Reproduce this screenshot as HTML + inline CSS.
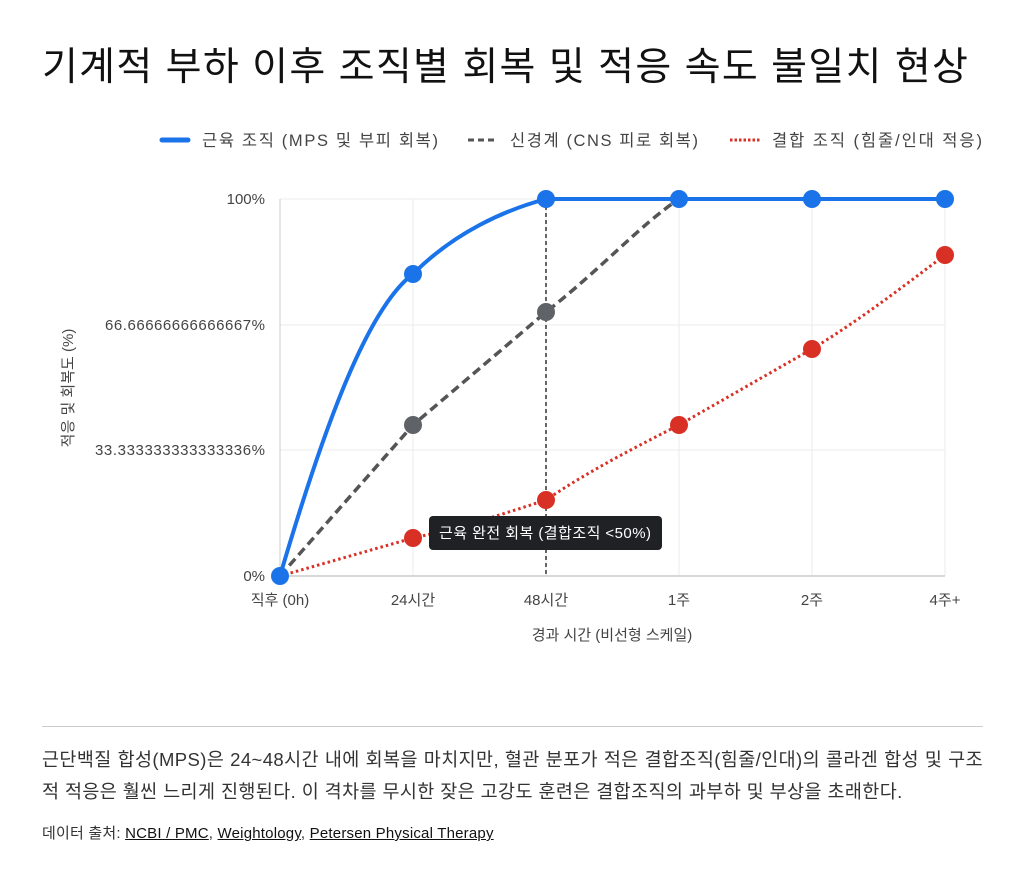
<!DOCTYPE html>
<html><head><meta charset="utf-8"><style>
body{margin:0;background:#fff;width:1024px;height:884px;overflow:hidden;font-family:"Liberation Sans","Noto Sans CJK KR",sans-serif;}
.t{position:absolute;left:42px;top:36px;font-size:39px;color:#111;letter-spacing:1.3px}
.hr{position:absolute;left:42px;top:726px;width:941px;height:1px;background:#ccc}
.p{position:absolute;left:42px;top:744px;width:941px;font-size:18.5px;line-height:32px;color:#333;letter-spacing:0.4px;white-space:nowrap}
.p div:first-child{text-align:justify;text-align-last:justify}
.s{position:absolute;left:42px;top:822px;font-size:15px;color:#333;letter-spacing:0.2px}
.s u{color:#111}
</style></head><body>
<div class="t">기계적 부하 이후 조직별 회복 및 적응 속도 불일치 현상</div>
<svg width="1024" height="884" style="position:absolute;left:0;top:0" font-family="Liberation Sans, Noto Sans CJK KR, sans-serif">
<g font-size="16.5" fill="#444">
<line x1="162" y1="140" x2="188" y2="140" stroke="#1a73e8" stroke-width="5" stroke-linecap="round"/>
<text x="202" y="146" textLength="236">근육 조직 (MPS 및 부피 회복)</text>
<line x1="468" y1="140" x2="498" y2="140" stroke="#555" stroke-width="3" stroke-dasharray="6,4"/>
<text x="510" y="146" textLength="188">신경계 (CNS 피로 회복)</text>
<line x1="730" y1="140" x2="760" y2="140" stroke="#d93025" stroke-width="3" stroke-dasharray="2.5,2"/>
<text x="772" y="146" textLength="210">결합 조직 (힘줄/인대 적응)</text>
</g>
<g stroke="#ebebeb" stroke-width="1">
<line x1="280" y1="199" x2="945" y2="199"/><line x1="280" y1="325" x2="945" y2="325"/><line x1="280" y1="450" x2="945" y2="450"/>
<line x1="413" y1="199" x2="413" y2="576"/><line x1="546" y1="199" x2="546" y2="576"/><line x1="679" y1="199" x2="679" y2="576"/><line x1="812" y1="199" x2="812" y2="576"/><line x1="945" y1="199" x2="945" y2="576"/>
</g>
<line x1="280" y1="199" x2="280" y2="576" stroke="#ccc"/>
<line x1="280" y1="576" x2="945" y2="576" stroke="#ccc" stroke-width="1.5"/>
<g font-size="15" fill="#444" text-anchor="end">
<text x="265" y="204">100%</text><text x="265" y="330" textLength="160">66.66666666666667%</text><text x="265" y="455" textLength="170">33.333333333333336%</text><text x="265" y="581">0%</text>
</g>
<g font-size="15" fill="#444" text-anchor="middle">
<text x="280" y="605">직후 (0h)</text><text x="413" y="605">24시간</text><text x="546" y="605">48시간</text><text x="679" y="605">1주</text><text x="812" y="605">2주</text><text x="945" y="605">4주+</text>
<text x="612" y="640">경과 시간 (비선형 스케일)</text>
<text transform="translate(73,388) rotate(-90)">적응 및 회복도 (%)</text>
</g>
<line x1="546" y1="199" x2="546" y2="576" stroke="#666" stroke-width="2" stroke-dasharray="4,3"/>
<path d="M280,576 L413,538 C460,528 500,515 546,500 C590,470 640,445 679,425 L812,349 C860,320 905,285 945,255" fill="none" stroke="#d93025" stroke-width="3" stroke-dasharray="2.5,3"/>
<path d="M280,576 L413,425 L546,312 C600,270 640,225 679,199" fill="none" stroke="#555" stroke-width="3.5" stroke-dasharray="9,5"/>
<path d="M280,576 C320,440 365,310 413,274 C455,232 505,210 546,199 L945,199" fill="none" stroke="#1a73e8" stroke-width="4"/>
<g fill="#d93025"><circle cx="413" cy="538" r="9"/><circle cx="546" cy="500" r="9"/><circle cx="679" cy="425" r="9"/><circle cx="812" cy="349" r="9"/><circle cx="945" cy="255" r="9"/></g>
<g fill="#5f6368"><circle cx="413" cy="425" r="9"/><circle cx="546" cy="312" r="9"/></g>
<g fill="#1a73e8"><circle cx="280" cy="576" r="9"/><circle cx="413" cy="274" r="9"/><circle cx="546" cy="199" r="9"/><circle cx="679" cy="199" r="9"/><circle cx="812" cy="199" r="9"/><circle cx="945" cy="199" r="9"/></g>
<rect x="429" y="516" width="233" height="34" rx="4" fill="#202124"/>
<text x="545" y="538" font-size="15" fill="#fff" text-anchor="middle" textLength="212">근육 완전 회복 (결합조직 &lt;50%)</text>
</svg>
<div class="hr"></div>
<div class="p"><div>근단백질 합성(MPS)은 24~48시간 내에 회복을 마치지만, 혈관 분포가 적은 결합조직(힘줄/인대)의 콜라겐 합성 및 구조</div><div>적 적응은 훨씬 느리게 진행된다. 이 격차를 무시한 잦은 고강도 훈련은 결합조직의 과부하 및 부상을 초래한다.</div></div>
<div class="s">데이터 출처: <u>NCBI / PMC</u>, <u>Weightology</u>, <u>Petersen Physical Therapy</u></div>
</body></html>
